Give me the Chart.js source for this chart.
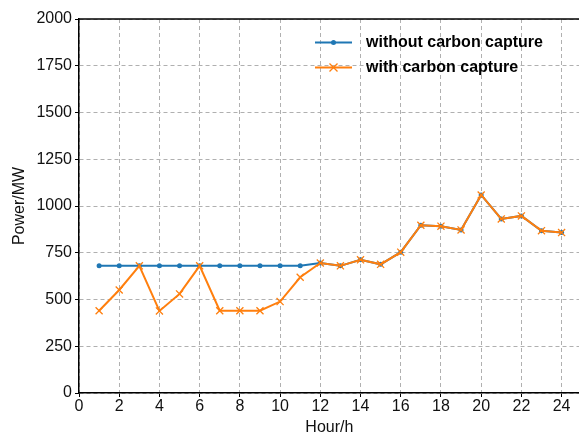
<!DOCTYPE html>
<html>
<head>
<meta charset="utf-8">
<script src="https://cdn.jsdelivr.net/npm/chart.js@4.4.0/dist/chart.umd.min.js"></script>
<style>
  html, body { margin: 0; padding: 0; background: #fff; overflow: hidden; }
  #wrap { width: 586px; height: 437px; position: relative; }
</style>
</head>
<body>
<div id="wrap"><canvas id="chart"></canvas></div>
<script>
// Chart data
const hours = [1, 2, 3, 4, 5, 6, 7, 8, 9, 10, 11, 12, 13, 14, 15, 16, 17, 18, 19, 20, 21, 22, 23, 24];
const withoutCapture = [680, 680, 680, 680, 680, 680, 680, 680, 680, 680, 680, 695, 680, 712, 688, 753, 897, 892, 872, 1059, 931, 947, 868, 858];
const withCapture = [440, 551, 680, 439, 530, 680, 440, 440, 440, 489, 619, 695, 680, 712, 688, 753, 897, 892, 872, 1059, 931, 947, 868, 858];
const seriesNames = ['without carbon capture', 'with carbon capture'];
const xTickValues = [0, 2, 4, 6, 8, 10, 12, 14, 16, 18, 20, 22, 24];
const yTickValues = [0, 250, 500, 750, 1000, 1250, 1500, 1750, 2000];

const BLUE = '#1f77b4';
const ORANGE = '#ff7f0e';
const FONT = 'Liberation Sans, Arial, sans-serif';

// draws the top frame line and the in-plot legend (line + marker samples)
const framePlugin = {
  id: 'frameAndLegend',
  afterDraw(chart) {
    const { ctx, chartArea } = chart;
    ctx.save();
    ctx.strokeStyle = '#000';
    ctx.lineWidth = 1.5;
    ctx.beginPath();
    ctx.moveTo(chartArea.left, chartArea.top);
    ctx.lineTo(chartArea.right, chartArea.top);
    ctx.stroke();

    const rows = [
      { label: seriesNames[0], color: BLUE, marker: 'dot', y: 42.5 },
      { label: seriesNames[1], color: ORANGE, marker: 'cross', y: 67.5 }
    ];
    rows.forEach(r => {
      ctx.strokeStyle = r.color;
      ctx.lineWidth = 2;
      ctx.beginPath();
      ctx.moveTo(315, r.y);
      ctx.lineTo(352, r.y);
      ctx.stroke();
      if (r.marker === 'dot') {
        ctx.fillStyle = r.color;
        ctx.beginPath();
        ctx.arc(333.5, r.y, 2.5, 0, Math.PI * 2);
        ctx.fill();
      } else {
        ctx.lineWidth = 1.3;
        ctx.beginPath();
        ctx.moveTo(329.5, r.y - 4); ctx.lineTo(337.5, r.y + 4);
        ctx.moveTo(337.5, r.y - 4); ctx.lineTo(329.5, r.y + 4);
        ctx.stroke();
      }
      ctx.fillStyle = '#000';
      ctx.font = 'bold 16px ' + FONT;
      ctx.textBaseline = 'middle';
      ctx.textAlign = 'left';
      ctx.fillText(r.label, 366, r.y);
    });
    ctx.restore();
  }
};

new Chart(document.getElementById('chart'), {
  type: 'line',
  data: {
    labels: hours,
    datasets: [
      {
        label: seriesNames[0],
        data: hours.map((h, i) => ({ x: h, y: withoutCapture[i] })),
        borderColor: BLUE,
        backgroundColor: BLUE,
        borderWidth: 2,
        pointStyle: 'circle',
        pointRadius: 2.5,
        pointBorderWidth: 0,
        tension: 0,
        order: 2
      },
      {
        label: seriesNames[1],
        data: hours.map((h, i) => ({ x: h, y: withCapture[i] })),
        borderColor: ORANGE,
        backgroundColor: ORANGE,
        borderWidth: 2,
        pointStyle: 'crossRot',
        pointRadius: 5,
        pointBorderWidth: 1.3,
        tension: 0,
        order: 1
      }
    ]
  },
  options: {
    responsive: true,
    maintainAspectRatio: false,
    animation: false,
    layout: { padding: { top: 19, right: 0, left: 0, bottom: 0 } },
    plugins: {
      legend: { display: false },
      tooltip: { enabled: false }
    },
    scales: {
      x: {
        type: 'linear',
        min: 0,
        max: 24.9,
        afterBuildTicks: scale => {
          scale.ticks = xTickValues.map(v => ({ value: v }));
        },
        afterFit: scale => { scale.height = 44; },
        ticks: {
          color: '#111',
          font: { size: 16, family: FONT },
          padding: 0,
          maxRotation: 0,
          autoSkip: false,
          callback: v => String(v)
        },
        grid: {
          color: '#b0b0b0',
          lineWidth: 1,
          borderDash: [4, 3],
          tickColor: '#000',
          tickLength: 4,
          tickBorderDash: []
        },
        border: { color: '#000', width: 1.5, dash: [4, 3] },
        title: {
          display: true,
          text: 'Hour/h',
          color: '#111',
          font: { size: 16, family: FONT },
          padding: { top: 0, bottom: 0 }
        }
      },
      y: {
        min: 0,
        max: 2000,
        afterBuildTicks: scale => {
          scale.ticks = yTickValues.map(v => ({ value: v }));
        },
        afterFit: scale => { scale.width = 79; },
        ticks: {
          color: '#111',
          font: { size: 16, family: FONT },
          padding: 3,
          callback: v => String(v)
        },
        grid: {
          color: '#b0b0b0',
          lineWidth: 1,
          borderDash: [4, 3],
          tickColor: '#000',
          tickLength: 4,
          tickBorderDash: []
        },
        border: { color: '#000', width: 1.5, dash: [4, 3] },
        title: {
          display: true,
          text: 'Power/MW',
          color: '#111',
          font: { size: 16, family: FONT },
          padding: { top: 10, bottom: 4 }
        }
      }
    }
  },
  plugins: [framePlugin]
});
</script>
</body>
</html>
